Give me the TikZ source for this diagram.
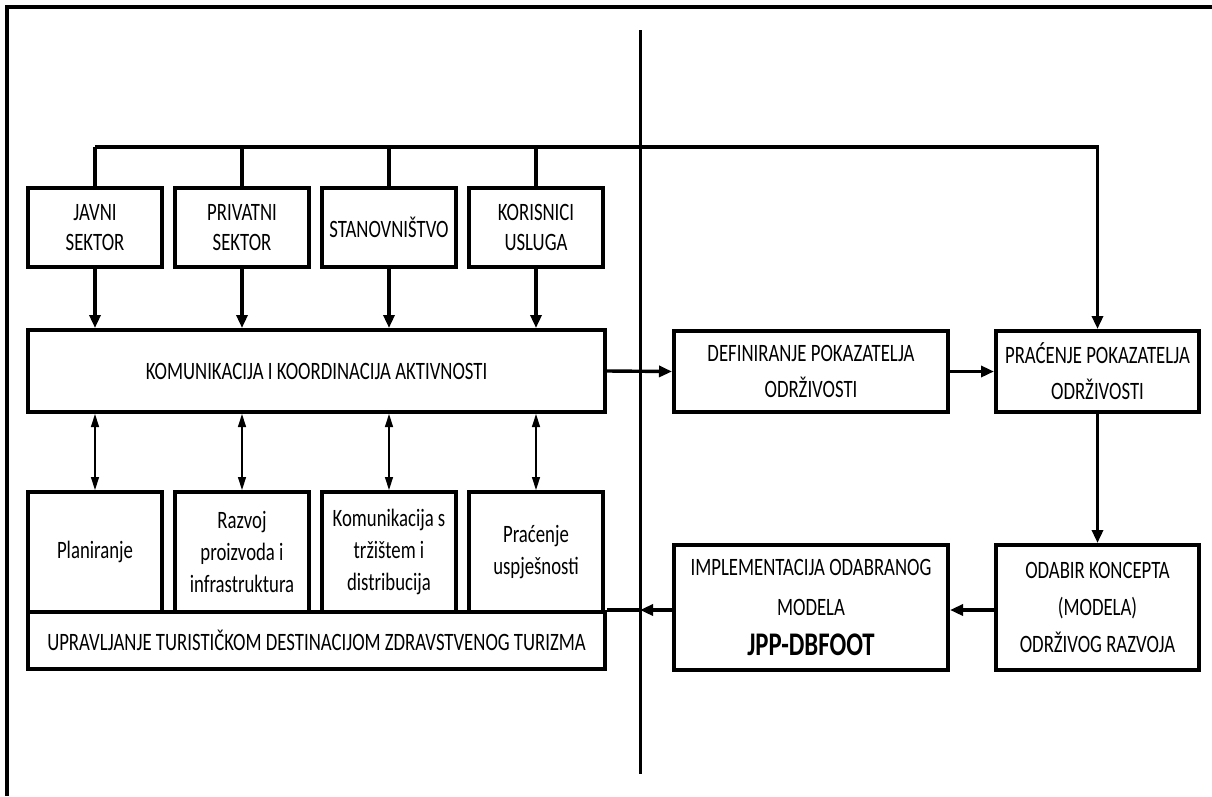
\documentclass[tikz,border=0pt]{standalone}
\usepackage{fontspec}
\setmainfont{Carlito}[FakeStretch=0.75]
\usetikzlibrary{arrows.meta}
\begin{document}
\begin{tikzpicture}[x=1pt,y=-1pt,
  box/.style={draw,line width=4pt,inner sep=0pt,align=center,font=\fontsize{25}{30}\selectfont},
  small/.style={box,minimum width=134pt},
  wide/.style={box,minimum width=577pt},
  conn/.style={line width=3.4pt},
  thickarrow/.style={line width=3.4pt,-{Triangle[length=13pt,width=11pt]}},
  thinarrow/.style={line width=1.4pt,{Triangle[length=13pt,width=8pt]}-{Triangle[length=13pt,width=8pt]}}]
\useasboundingbox (0,0) rectangle (1212,796);
% frame
\draw[line width=3.5pt] (7,796) -- (7,7) -- (1212,7);
% centre divider
\coordinate (vtop) at (640,30);
\coordinate (vbot) at (640,774);
\draw[line width=3pt] (vtop) -- (vbot);
% top boxes
\node[small,minimum height=79pt] (javni) at (95,227.5) {JAVNI\\SEKTOR};
\node[small,minimum height=79pt] (privatni) at (242,227.5) {PRIVATNI\\SEKTOR};
\node[small,minimum height=79pt] (stan) at (389,227.5) {STANOVNIŠTVO};
\node[small,minimum height=79pt] (kor) at (536,227.5) {KORISNICI\\USLUGA};
% communication box
\node[wide,minimum height=82pt] (kom) at (316.5,371) {KOMUNIKACIJA I KOORDINACIJA AKTIVNOSTI};
% bottom boxes
\node[small,minimum height=120pt,font=\fontsize{25}{32}\selectfont] (plan) at (95,552) {Planiranje};
\node[small,minimum height=120pt,font=\fontsize{25}{32}\selectfont] (razvoj) at (242,552) {Razvoj\\proizvoda i\\infrastruktura};
\node[small,minimum height=120pt,font=\fontsize{25}{32}\selectfont] (trz) at (389,552) {Komunikacija s\\tržištem i\\distribucija};
\node[small,minimum height=120pt,font=\fontsize{25}{32}\selectfont] (usp) at (536,552) {Praćenje\\uspješnosti};
\node[wide,minimum height=57pt] (upr) at (316.5,640.5) {UPRAVLJANJE TURISTIČKOM DESTINACIJOM ZDRAVSTVENOG TURIZMA};
% right side
\node[box,minimum width=274pt,minimum height=81pt,font=\fontsize{25}{36}\selectfont] (def) at (811,371.5) {DEFINIRANJE POKAZATELJA\\ODRŽIVOSTI};
\node[box,minimum width=203pt,minimum height=81pt,font=\fontsize{25}{36}\selectfont] (prac) at (1097.5,371.5) {PRAĆENJE POKAZATELJA\\ODRŽIVOSTI};
\node[box,minimum width=274pt,minimum height=125pt,font=\fontsize{25}{40}\selectfont] (impl) at (811,607.5) {IMPLEMENTACIJA ODABRANOG\\MODELA\\{\fontsize{33}{40}\selectfont\bfseries JPP-DBFOOT}};
\node[box,minimum width=203pt,minimum height=125pt,font=\fontsize{25}{37}\selectfont] (odabir) at (1097.5,607.5) {ODABIR KONCEPTA\\(MODELA)\\ODRŽIVOG RAZVOJA};
% bus
\coordinate (bus) at (95,147);
\foreach \n in {javni,privatni,stan,kor}{
  \draw[conn] (\n.north) -- (\n.north |- bus);
  \draw[thickarrow] (\n.south) -- (\n.south |- kom.north);
}
\draw[thickarrow] (bus) -| (prac.north);
% double arrows
\foreach \n in {plan,razvoj,trz,usp}{
  \draw[thinarrow] (\n.north |- kom.south) -- (\n.north);
}
% flow
\draw[thickarrow] (kom.east) -- (def.west);
\draw[thickarrow] (def.east) -- (prac.west);
\draw[thickarrow] (prac.south) -- (odabir.north);
\draw[thickarrow] (odabir.west |- upr.north) -- (impl.east |- upr.north);
\draw[thickarrow] (impl.west |- upr.north) -- (vtop |- upr.north);
\draw[conn] (vtop |- upr.north) -- (upr.north east);
\end{tikzpicture}
\end{document}
